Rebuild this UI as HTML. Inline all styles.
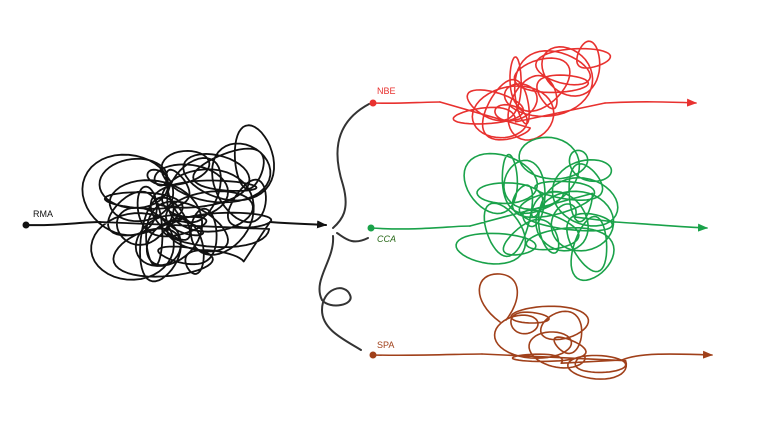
<!DOCTYPE html>
<html><head><meta charset="utf-8"><style>
html,body{margin:0;padding:0;background:#fff;width:760px;height:428px;overflow:hidden}
svg{display:block}
text{font-family:"Liberation Sans",sans-serif;font-size:9px}
</style></head><body>
<svg id="s" width="760" height="428" viewBox="0 0 760 428" xmlns="http://www.w3.org/2000/svg">
<defs>
<marker id="ak" markerWidth="10" markerHeight="8" refX="9" refY="4" orient="auto" markerUnits="userSpaceOnUse"><path d="M0,0 L10,4 L0,8 Z" fill="#111"/></marker>
<marker id="ar" markerWidth="10" markerHeight="8" refX="9" refY="4" orient="auto" markerUnits="userSpaceOnUse"><path d="M0,0 L10,4 L0,8 Z" fill="#e8312f"/></marker>
<marker id="ag" markerWidth="10" markerHeight="8" refX="9" refY="4" orient="auto" markerUnits="userSpaceOnUse"><path d="M0,0 L10,4 L0,8 Z" fill="#1aa24a"/></marker>
<marker id="ab" markerWidth="10" markerHeight="8" refX="9" refY="4" orient="auto" markerUnits="userSpaceOnUse"><path d="M0,0 L10,4 L0,8 Z" fill="#a0401a"/></marker>
</defs>
<g fill="none" stroke-linecap="round" stroke-linejoin="round">
<path d="M26 225 C60 226 80 222 100 222" stroke="#111" stroke-width="2"/>
<path d="M270 222 C295 224 312 224 326 225" stroke="#111" stroke-width="2" marker-end="url(#ak)"/>
<path id="blk" stroke="#111" stroke-width="1.8"/>
<path d="M369 104 C330 125 335 160 343 185 C350 210 342 220 333 228" stroke="#333" stroke-width="2"/>
<path d="M337 233 C345 238 352 246 368 238" stroke="#333" stroke-width="2"/>
<path d="M333 236 C335 260 312 280 322 300 C330 310 355 305 350 295 C345 282 322 288 322 310 C322 330 345 340 361 350" stroke="#333" stroke-width="2"/>
<path d="M373 103 C400 104 420 102 440 102" stroke="#e8312f" stroke-width="1.6"/>
<path d="M605 103 C640 101 670 102 696 103" stroke="#e8312f" stroke-width="1.6" marker-end="url(#ar)"/>
<path id="red" stroke="#e8312f" stroke-width="1.6"/>
<path d="M371 228 C420 231 450 226 470 226" stroke="#1aa24a" stroke-width="1.6"/>
<path d="M615 222 C650 224 680 227 707 228" stroke="#1aa24a" stroke-width="1.6" marker-end="url(#ag)"/>
<path id="grn" stroke="#1aa24a" stroke-width="1.6"/>
<path d="M373 355 C420 356 460 354 482 354" stroke="#a0401a" stroke-width="1.6"/>
<path d="M622 360 C640 352 680 354 712 355" stroke="#a0401a" stroke-width="1.6" marker-end="url(#ab)"/>
<path id="brn" stroke="#a0401a" stroke-width="1.6"/>
<path d="M500 322 C470 300 475 272 500 274 C522 276 522 300 506 320" stroke="#a0401a" stroke-width="1.6"/>
</g>
<circle cx="26" cy="225" r="3.5" fill="#111"/>
<circle cx="373" cy="103" r="3.5" fill="#e8312f"/>
<circle cx="371" cy="228" r="3.5" fill="#1aa24a"/>
<circle cx="373" cy="355" r="3.5" fill="#a0401a"/>
<text x="33" y="217" fill="#111">RMA</text>
<text x="377" y="94" fill="#e8312f">NBE</text>
<text x="377" y="242" fill="#2a6a1a" font-style="italic">CCA</text>
<text x="377" y="348" fill="#a0401a">SPA</text>
</svg>
<script>
function loops(id,cx,cy,rx,ry,n,seed,start,end){
 var p1=seed*1.7,p2=seed*2.3,p3=seed*0.9,p4=seed*3.1;
 var T=n*Math.PI*2,steps=n*40,s="M"+start[0]+" "+start[1];
 for(var i=0;i<=steps;i++){
  var t=i/steps*T;
  var ra=0.3+0.16*Math.sin(t*0.37+p3);
  var rb=0.3+0.16*Math.sin(t*0.29+p1+1);
  var x=cx+rx*(0.45*Math.sin(t*0.151+p1)+0.22*Math.sin(t*0.067+p2)+ra*Math.cos(t));
  var y=cy+ry*(0.45*Math.sin(t*0.127+p3)+0.22*Math.sin(t*0.083+p4)+rb*Math.sin(t));
  s+=" L"+x.toFixed(1)+" "+y.toFixed(1);
 }
 s+=" L"+end[0]+" "+end[1];
 document.getElementById(id).setAttribute("d",s);
}
loops("blk",185,210,100,78,32,1.3,[100,222],[270,222]);
loops("red",535,95,82,68,14,2.7,[440,102],[605,103]);
loops("grn",550,208,85,72,22,4.1,[470,226],[615,222]);
loops("brn",552,343,75,40,9,0.6,[482,354],[622,360]);
</script>
</body></html>
